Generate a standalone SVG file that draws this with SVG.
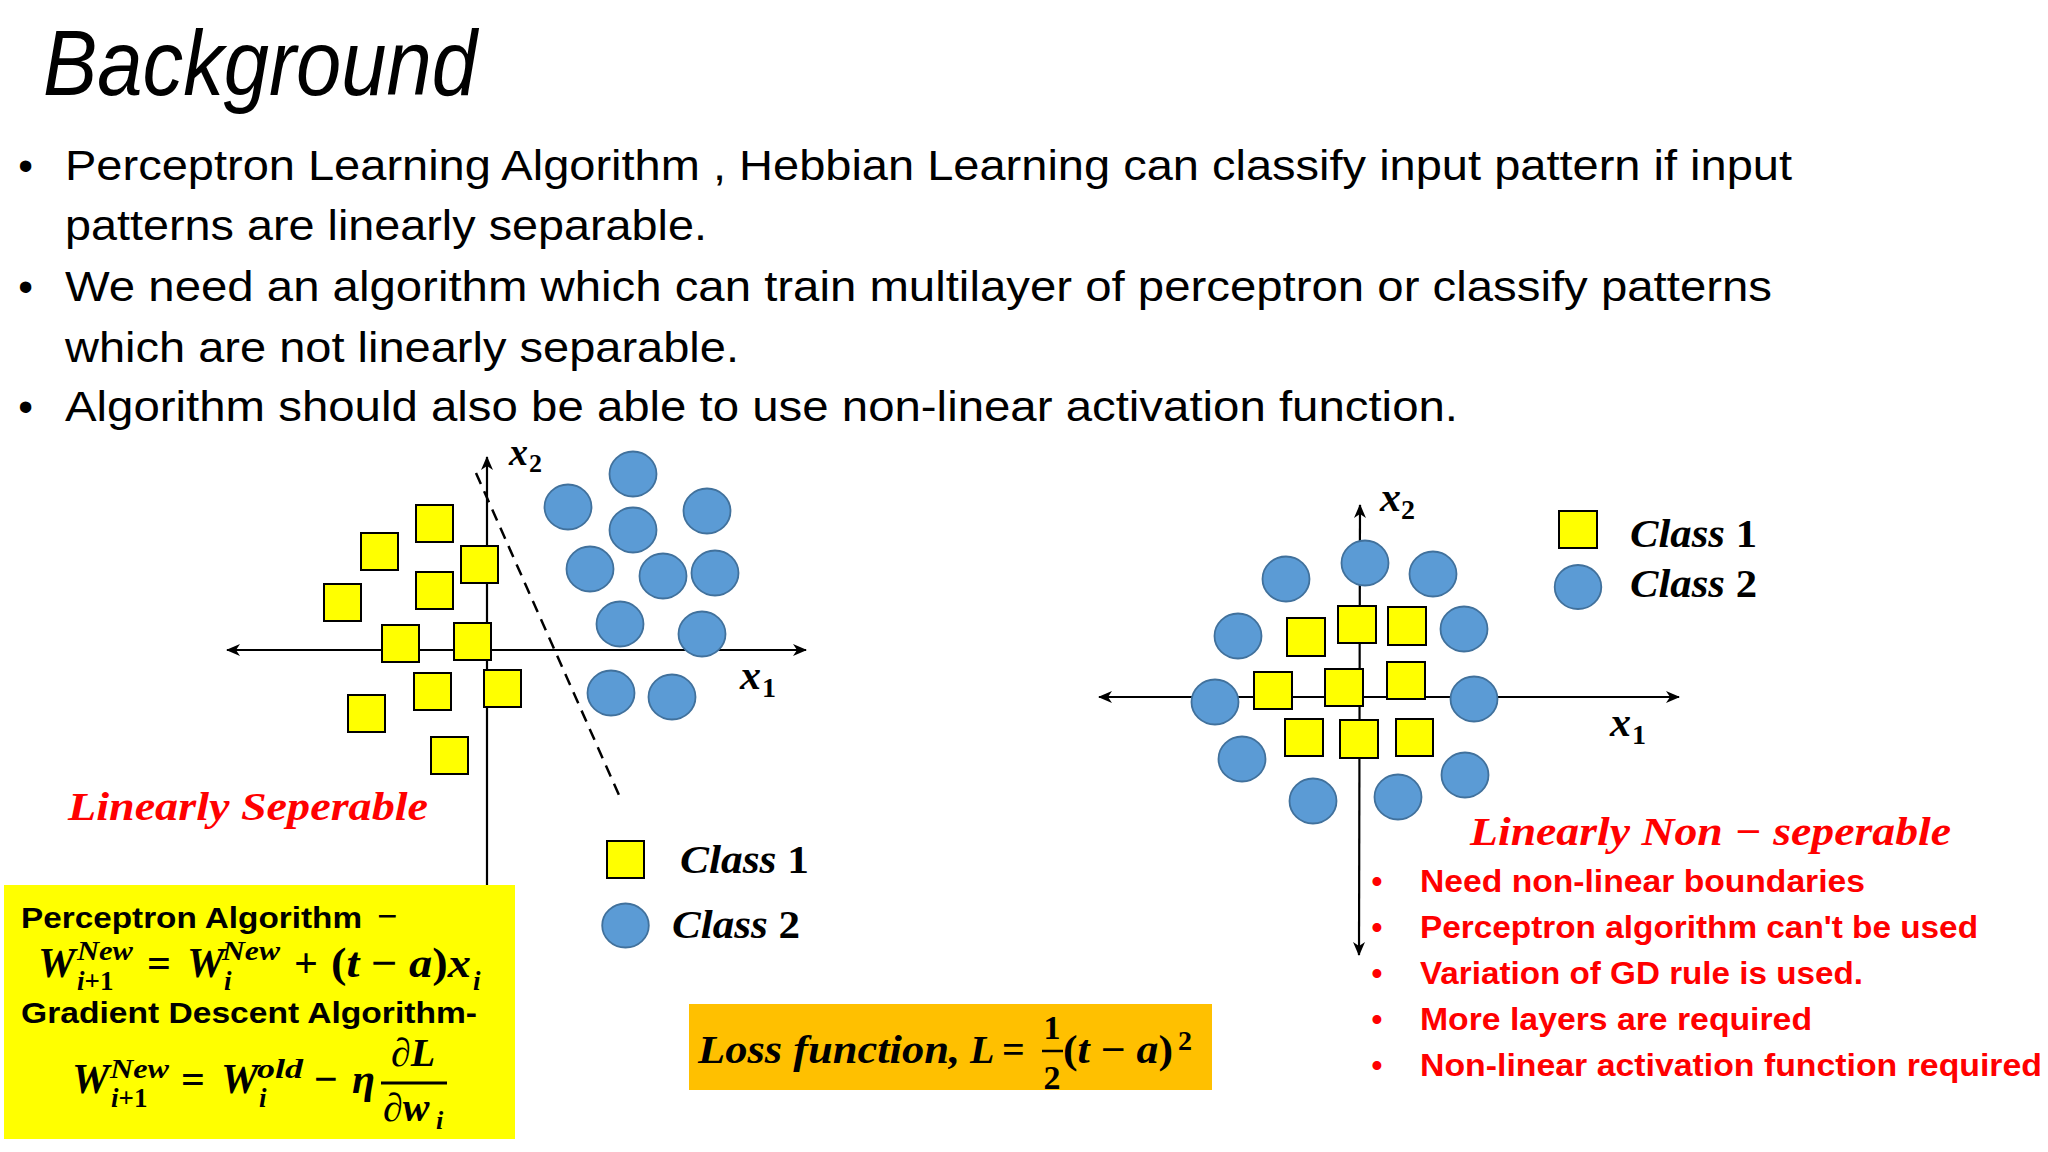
<svg xmlns="http://www.w3.org/2000/svg" width="2048" height="1152" viewBox="0 0 2048 1152">
<defs>
<style>
.body{font-family:"Liberation Sans",Arial,sans-serif;font-size:42px;fill:#000}
.bul{font-family:"Liberation Sans",Arial,sans-serif;font-size:42px;fill:#000}
.red{font-family:"Liberation Sans",Arial,sans-serif;font-size:31px;font-weight:bold;fill:#FF0000}
.redh{font-family:"Liberation Serif","Times New Roman",serif;font-size:40px;font-weight:bold;font-style:italic;fill:#FF0000}
.m{font-family:"Liberation Serif","Times New Roman",serif;font-weight:bold;font-style:italic;fill:#000}
.mu{font-family:"Liberation Serif","Times New Roman",serif;font-weight:bold;font-style:normal;fill:#000}
.bs{font-family:"Liberation Sans",Arial,sans-serif;font-weight:bold;font-size:30px;fill:#000}
.sq{fill:#FFFF00;stroke:#000;stroke-width:2}
.ci{fill:#5B9BD5;stroke:#41719C;stroke-width:1.8}
.ax{stroke:#000;stroke-width:2.2;fill:none}
</style>
<marker id="arr" viewBox="0 0 14 12" refX="13" refY="6" markerWidth="14" markerHeight="12" markerUnits="userSpaceOnUse" orient="auto-start-reverse">
<path d="M0,0 L14,6 L0,12 L4,6 z" fill="#000"/>
</marker>
</defs>
<rect width="2048" height="1152" fill="#fff"/>

<g id="title">
<text x="43" y="95" font-family="'Liberation Sans',Arial,sans-serif" font-size="92" font-style="italic" textLength="434" lengthAdjust="spacingAndGlyphs">Background</text>
</g>

<g id="bullets">
<text class="bul" x="25.5" y="180" text-anchor="middle">•</text>
<text class="body" x="65" y="180" textLength="1727" lengthAdjust="spacingAndGlyphs">Perceptron Learning Algorithm , Hebbian Learning can classify input pattern if input</text>
<text class="body" x="65" y="240" textLength="642" lengthAdjust="spacingAndGlyphs">patterns are linearly separable.</text>
<text class="bul" x="25.5" y="301" text-anchor="middle">•</text>
<text class="body" x="65" y="301" textLength="1707" lengthAdjust="spacingAndGlyphs">We need an algorithm which can train multilayer of perceptron or classify patterns</text>
<text class="body" x="65" y="362" textLength="674" lengthAdjust="spacingAndGlyphs">which are not linearly separable.</text>
<text class="bul" x="25.5" y="421" text-anchor="middle">•</text>
<text class="body" x="65" y="421" textLength="1393" lengthAdjust="spacingAndGlyphs">Algorithm should also be able to use non-linear activation function.</text>
</g>

<g id="connectors">
<line class="ax" x1="487" y1="885" x2="487" y2="457" marker-end="url(#arr)"/>
<line class="ax" x1="227" y1="650" x2="806" y2="650" marker-start="url(#arr)" marker-end="url(#arr)"/>
<line x1="476" y1="473" x2="619" y2="795" stroke="#000" stroke-width="2.5" stroke-dasharray="12 8"/>
<line class="ax" x1="1359" y1="955" x2="1360" y2="505" marker-start="url(#arr)" marker-end="url(#arr)"/>
<line class="ax" x1="1099" y1="697" x2="1679" y2="697" marker-start="url(#arr)" marker-end="url(#arr)"/>
</g>

<g id="left-chart">
<g id="left-class1">
<rect class="sq" x="416" y="505" width="37" height="37"/>
<rect class="sq" x="361" y="533" width="37" height="37"/>
<rect class="sq" x="461" y="546" width="37" height="37"/>
<rect class="sq" x="416" y="572" width="37" height="37"/>
<rect class="sq" x="324" y="584" width="37" height="37"/>
<rect class="sq" x="382" y="625" width="37" height="37"/>
<rect class="sq" x="454" y="623" width="37" height="37"/>
<rect class="sq" x="414" y="673" width="37" height="37"/>
<rect class="sq" x="484" y="670" width="37" height="37"/>
<rect class="sq" x="348" y="695" width="37" height="37"/>
<rect class="sq" x="431" y="737" width="37" height="37"/>
</g>
<g id="left-class2">
<ellipse class="ci" cx="633" cy="474" rx="23.5" ry="22.5"/>
<ellipse class="ci" cx="568" cy="507" rx="23.5" ry="22.5"/>
<ellipse class="ci" cx="707" cy="511" rx="23.5" ry="22.5"/>
<ellipse class="ci" cx="633" cy="530" rx="23.5" ry="22.5"/>
<ellipse class="ci" cx="590" cy="569" rx="23.5" ry="22.5"/>
<ellipse class="ci" cx="663" cy="576" rx="23.5" ry="22.5"/>
<ellipse class="ci" cx="715" cy="573" rx="23.5" ry="22.5"/>
<ellipse class="ci" cx="620" cy="624" rx="23.5" ry="22.5"/>
<ellipse class="ci" cx="702" cy="634" rx="23.5" ry="22.5"/>
<ellipse class="ci" cx="611" cy="693" rx="23.5" ry="22.5"/>
<ellipse class="ci" cx="672" cy="697" rx="23.5" ry="22.5"/>
</g>
<g id="left-axis-labels">
<text class="m" x="509" y="465" font-size="38">x</text><text class="mu" x="529" y="472" font-size="26">2</text>
<text class="m" x="740" y="689" font-size="42">x</text><text class="mu" x="762" y="697" font-size="28">1</text>
</g>
<text id="left-caption" class="redh" x="68" y="820" textLength="360" lengthAdjust="spacingAndGlyphs">Linearly Seperable</text>
</g>

<g id="left-legend">
<rect class="sq" x="607" y="841" width="37" height="37"/>
<ellipse class="ci" cx="625.5" cy="925.5" rx="23.3" ry="22"/>
<text class="m" x="680" y="873" font-size="40" textLength="129" lengthAdjust="spacingAndGlyphs">Class <tspan class="mu">1</tspan></text>
<text class="m" x="672" y="938" font-size="40" textLength="128" lengthAdjust="spacingAndGlyphs">Class <tspan class="mu">2</tspan></text>
</g>

<g id="right-chart">
<g id="right-class1">
<rect class="sq" x="1287" y="618" width="38" height="38"/>
<rect class="sq" x="1338" y="606" width="38" height="37"/>
<rect class="sq" x="1388" y="607" width="38" height="38"/>
<rect class="sq" x="1254" y="672" width="38" height="37"/>
<rect class="sq" x="1325" y="669" width="38" height="37"/>
<rect class="sq" x="1387" y="662" width="38" height="37"/>
<rect class="sq" x="1285" y="719" width="38" height="37"/>
<rect class="sq" x="1340" y="720" width="38" height="38"/>
<rect class="sq" x="1396" y="719" width="37" height="37"/>
</g>
<g id="right-class2">
<ellipse class="ci" cx="1365" cy="563" rx="23.5" ry="22.5"/>
<ellipse class="ci" cx="1286" cy="579" rx="23.5" ry="22.5"/>
<ellipse class="ci" cx="1433" cy="574" rx="23.5" ry="22.5"/>
<ellipse class="ci" cx="1238" cy="636" rx="23.5" ry="22.5"/>
<ellipse class="ci" cx="1464" cy="629" rx="23.5" ry="22.5"/>
<ellipse class="ci" cx="1215" cy="702" rx="23.5" ry="22.5"/>
<ellipse class="ci" cx="1474" cy="699" rx="23.5" ry="22.5"/>
<ellipse class="ci" cx="1242" cy="759" rx="23.5" ry="22.5"/>
<ellipse class="ci" cx="1465" cy="775" rx="23.5" ry="22.5"/>
<ellipse class="ci" cx="1313" cy="801" rx="23.5" ry="22.5"/>
<ellipse class="ci" cx="1398" cy="797" rx="23.5" ry="22.5"/>
</g>
<g id="right-axis-labels">
<text class="m" x="1380" y="511" font-size="42">x</text><text class="mu" x="1401" y="519" font-size="28">2</text>
<text class="m" x="1610" y="736" font-size="42">x</text><text class="mu" x="1632" y="744" font-size="28">1</text>
</g>
</g>

<g id="right-legend">
<rect class="sq" x="1559" y="511" width="38" height="37"/>
<ellipse class="ci" cx="1578" cy="587" rx="23.3" ry="22"/>
<text class="m" x="1630" y="547" font-size="40" textLength="127" lengthAdjust="spacingAndGlyphs">Class <tspan class="mu">1</tspan></text>
<text class="m" x="1630" y="597" font-size="40" textLength="127" lengthAdjust="spacingAndGlyphs">Class <tspan class="mu">2</tspan></text>
</g>

<g id="right-notes">
<text class="redh" x="1470" y="845" textLength="481" lengthAdjust="spacingAndGlyphs">Linearly Non − seperable</text>
<g class="red">
<text x="1377" y="892" text-anchor="middle">•</text>
<text x="1420" y="892" textLength="445" lengthAdjust="spacingAndGlyphs">Need non-linear boundaries</text>
<text x="1377" y="938" text-anchor="middle">•</text>
<text x="1420" y="938" textLength="558" lengthAdjust="spacingAndGlyphs">Perceptron algorithm can't be used</text>
<text x="1377" y="984" text-anchor="middle">•</text>
<text x="1420" y="984" textLength="443" lengthAdjust="spacingAndGlyphs">Variation of GD rule is used.</text>
<text x="1377" y="1030" text-anchor="middle">•</text>
<text x="1420" y="1030" textLength="392" lengthAdjust="spacingAndGlyphs">More layers are required</text>
<text x="1377" y="1076" text-anchor="middle">•</text>
<text x="1420" y="1076" textLength="622" lengthAdjust="spacingAndGlyphs">Non-linear activation function required</text>
</g>
</g>

<g id="update-rules">
<rect x="4" y="885" width="511" height="254" fill="#FFFF00"/>
<text class="bs" x="21" y="928" textLength="341" lengthAdjust="spacingAndGlyphs">Perceptron Algorithm</text>
<text class="mu" x="377" y="928" font-size="36">−</text>
<text class="m" x="38" y="977" font-size="42">W</text>
<text class="m" x="77" y="960" font-size="27" textLength="56" lengthAdjust="spacingAndGlyphs">New</text>
<text class="m" x="77" y="990" font-size="27">i<tspan class="mu">+1</tspan></text>
<text class="mu" x="147" y="977" font-size="42">=</text>
<text class="m" x="187" y="977" font-size="42">W</text>
<text class="m" x="222" y="960" font-size="27" textLength="58" lengthAdjust="spacingAndGlyphs">New</text>
<text class="m" x="224" y="990" font-size="27">i</text>
<text class="mu" x="294" y="977" font-size="42">+</text>
<text class="mu" x="331" y="977" font-size="42" textLength="140" lengthAdjust="spacingAndGlyphs">(<tspan class="m">t</tspan> − <tspan class="m">a</tspan>)<tspan class="m">x</tspan></text>
<text class="m" x="473" y="990" font-size="27">i</text>
<text class="bs" x="21" y="1023" textLength="456" lengthAdjust="spacingAndGlyphs">Gradient Descent Algorithm-</text>
<text class="m" x="72" y="1093" font-size="42">W</text>
<text class="m" x="110" y="1078" font-size="27" textLength="59" lengthAdjust="spacingAndGlyphs">New</text>
<text class="m" x="111" y="1107" font-size="27">i<tspan class="mu">+1</tspan></text>
<text class="mu" x="181" y="1093" font-size="42">=</text>
<text class="m" x="221" y="1093" font-size="42">W</text>
<text class="m" x="257" y="1078" font-size="27" textLength="46" lengthAdjust="spacingAndGlyphs">old</text>
<text class="m" x="259" y="1107" font-size="27">i</text>
<text class="mu" x="314" y="1093" font-size="42">−</text>
<text class="m" x="352" y="1093" font-size="42">η</text>
<line x1="381" y1="1083" x2="447" y2="1083" stroke="#000" stroke-width="3"/>
<text class="m" x="391" y="1066" font-size="40">∂<tspan>L</tspan></text>
<text class="m" x="383" y="1121" font-size="40">∂w</text>
<text class="m" x="436" y="1129" font-size="26">i</text>
</g>

<g id="loss-function">
<rect x="689" y="1004" width="523" height="86" fill="#FFC000"/>
<text class="m" x="698" y="1063" font-size="40" textLength="262" lengthAdjust="spacingAndGlyphs">Loss function,</text>
<text class="m" x="970" y="1063" font-size="40">L</text>
<text class="mu" x="1002" y="1063" font-size="40">=</text>
<text class="mu" x="1052" y="1039" font-size="34" text-anchor="middle">1</text>
<line x1="1042" y1="1051" x2="1063" y2="1051" stroke="#000" stroke-width="2.5"/>
<text class="mu" x="1052" y="1089" font-size="34" text-anchor="middle">2</text>
<text class="mu" x="1063" y="1063" font-size="40" textLength="110" lengthAdjust="spacingAndGlyphs">(<tspan class="m">t</tspan> − <tspan class="m">a</tspan>)</text>
<text class="mu" x="1178" y="1050" font-size="28">2</text>
</g>
</svg>
